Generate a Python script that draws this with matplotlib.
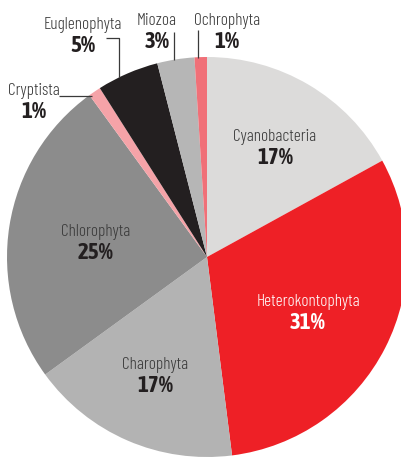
import matplotlib
matplotlib.use("Agg")
import matplotlib.pyplot as plt
from matplotlib import font_manager

names = ["Cyanobacteria", "Heterokontophyta", "Charophyta", "Chlorophyta",
         "Cryptista", "Euglenophyta", "Miozoa", "Ochrophyta"]
values = [17, 31, 17, 25, 1, 5, 3, 1]
colors = ["#dcdbda", "#ee2026", "#b3b3b3", "#8c8c8c",
          "#f5a3a8", "#231f20", "#b6b6b6", "#f07078"]

avail = {f.name for f in font_manager.fontManager.ttflist}
fam_n = [f for f in ["Barlow Condensed", "Asap Condensed", "Archivo Narrow"] if f in avail] + ["DejaVu Sans"]
fam_p = [f for f in ["Asap Condensed", "Barlow Condensed", "Archivo Narrow"] if f in avail] + ["DejaVu Sans"]

W, H = 401, 457
fig = plt.figure(figsize=(W / 100, H / 100), dpi=100)
ax = fig.add_axes([0, 0, 1, 1])
cx, cy, r = 207, H - 257, 200
ax.pie(values, colors=colors, startangle=90, counterclock=False,
       center=(cx, cy), radius=r, frame=True,
       wedgeprops=dict(linewidth=0))
ax.set_xlim(0, W)
ax.set_ylim(0, H)
ax.set_aspect("equal")
ax.axis("off")

def lab(x, y, name, pct, color_n="#3a3a3a", color_p="#231f20"):
    ax.text(x, H - y, name, ha="center", va="center", fontsize=12.5,
            family=fam_n, weight=300, color=color_n)
    ax.text(x, H - y - 21, pct, ha="center", va="center", fontsize=16.5,
            family=fam_p, weight="bold", color=color_p)

# inside labels
lab(275, 137, names[0], f"{values[0]}%")
lab(308, 302, names[1], f"{values[1]}%", "white", "white")
lab(155, 365, names[2], f"{values[2]}%")
lab(96, 232, names[3], f"{values[3]}%")
# outside labels
lab(34, 91, names[4], f"{values[4]}%")
lab(83, 25, names[5], f"{values[5]}%")
lab(157, 21, names[6], f"{values[6]}%")
lab(227, 21, names[7], f"{values[7]}%")

lc = "#3a3a3a"
lw = 0.9
def line(xs, ys):
    ax.plot(xs, [H - y for y in ys], color=lc, lw=lw, solid_capstyle="butt")

line([59, 92], [96, 96])
line([106, 119, 119], [38, 38, 77])
line([174, 174], [32, 60])
line([198, 198], [30, 58])

fig.savefig("out.png", dpi=100)
